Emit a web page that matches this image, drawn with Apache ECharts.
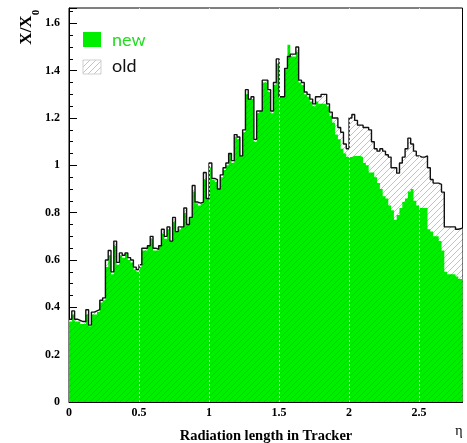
<!DOCTYPE html>
<html><head><meta charset="utf-8">
<script src="https://cdn.jsdelivr.net/npm/echarts@6/dist/echarts.min.js"></script>
<style>html,body{margin:0;padding:0;background:#fff}#c{width:467px;height:443px}</style>
</head><body><div id="c"></div>
<script>
// Histogram bins: eta from 0 in steps of binWidth (each row = 0.2 in eta)
const binWidth = 0.02;
const etaMax = 2.81;
const oldValues = [
 0.35,0.385,0.35,0.345,0.34,0.34,0.39,0.325,0.38,0.385,
 0.39,0.43,0.44,0.60,0.64,0.55,0.68,0.59,0.63,0.62,
 0.63,0.61,0.60,0.57,0.56,0.58,0.65,0.65,0.66,0.70,
 0.65,0.645,0.66,0.73,0.70,0.74,0.68,0.78,0.72,0.74,
 0.74,0.82,0.75,0.78,0.915,0.845,0.84,0.845,0.97,0.86,
 1.01,0.945,0.94,0.90,0.96,0.99,1.01,1.05,1.02,1.13,
 1.12,1.04,1.15,1.32,1.28,1.29,1.11,1.23,1.23,1.36,
 1.36,1.32,1.23,1.35,1.45,1.29,1.29,1.41,1.46,1.47,
 1.47,1.50,1.36,1.35,1.31,1.30,1.28,1.26,1.29,1.29,
 1.30,1.30,1.26,1.225,1.20,1.20,1.16,1.14,1.09,1.07,
 1.20,1.215,1.19,1.17,1.17,1.16,1.16,1.15,1.10,1.07,
 1.06,1.07,1.06,1.045,1.035,0.99,0.99,0.967,1.01,1.035,
 1.07,1.115,1.09,1.06,1.04,1.035,1.035,1.04,0.99,0.94,
 0.925,0.925,0.92,0.887,0.74,0.74,0.74,0.74,0.73,0.735];
const newValues = [
 0.34,0.37,0.34,0.34,0.33,0.33,0.37,0.32,0.37,0.37,
 0.38,0.42,0.43,0.57,0.62,0.54,0.66,0.58,0.62,0.61,
 0.63,0.60,0.59,0.56,0.55,0.57,0.64,0.64,0.66,0.69,
 0.64,0.64,0.66,0.71,0.69,0.73,0.68,0.76,0.72,0.73,
 0.74,0.80,0.75,0.78,0.89,0.84,0.83,0.84,0.94,0.86,
 0.99,0.94,0.93,0.90,0.95,0.98,1.00,1.05,1.01,1.12,
 1.11,1.04,1.14,1.30,1.28,1.28,1.10,1.22,1.23,1.35,
 1.35,1.31,1.22,1.34,1.43,1.29,1.29,1.41,1.51,1.46,
 1.46,1.48,1.35,1.34,1.30,1.29,1.27,1.25,1.27,1.26,
 1.26,1.26,1.25,1.21,1.18,1.13,1.11,1.07,1.05,1.035,
 1.035,1.04,1.04,1.04,1.035,1.01,1.00,0.97,0.97,0.95,
 0.925,0.90,0.87,0.86,0.83,0.81,0.77,0.79,0.82,0.845,
 0.86,0.89,0.90,0.85,0.83,0.82,0.82,0.82,0.73,0.72,
 0.70,0.70,0.68,0.64,0.55,0.54,0.54,0.54,0.53,0.52];
const gridLinesEta = [0.5, 1, 1.5, 2, 2.5];
const legendLabels = ['new', 'old'];
const xTitle = 'Radiation length in Tracker';

function toSteps(vals) {
  const d = vals.map((v, i) => [+(i * binWidth).toFixed(4), v]);
  d.push([etaMax, vals[vals.length - 1]]);
  return d;
}
function hatch(bg, fg, p) {
  const c = document.createElement('canvas');
  c.width = p; c.height = p;
  const g = c.getContext('2d');
  if (bg) { g.fillStyle = bg; g.fillRect(0, 0, p, p); }
  g.strokeStyle = fg; g.lineWidth = 1;
  g.beginPath();
  g.moveTo(0, p); g.lineTo(p, 0);
  g.moveTo(-1, 1); g.lineTo(1, -1);
  g.moveTo(p - 1, p + 1); g.lineTo(p + 1, p - 1);
  g.stroke();
  return c;
}
const greyHatch = hatch('#ffffff', '#c4c4c4', 6);
const greenHatch = hatch('#00ee00', '#00cf00', 6);

const chart = echarts.init(document.getElementById('c'), null, {renderer: 'canvas'});
const labelFont = {fontFamily: 'Liberation Serif', fontWeight: 'bold', fontSize: 12, color: '#000'};
function txt(x, y, text, font, fill, align, rot) {
  return {type: 'text', x: x, y: y, rotation: rot || 0,
    style: {text: text, font: font, fill: fill, align: align, verticalAlign: 'middle'}};
}
chart.setOption({
  animation: false,
  grid: {left: 69, top: 8, width: 393.5, height: 394, show: true, borderColor: '#000', borderWidth: 1, backgroundColor: 'transparent'},
  xAxis: {
    type: 'value', min: 0, max: etaMax, interval: 0.5,
    axisLine: {show: true, onZero: false, lineStyle: {color: '#000', width: 1}},
    axisTick: {show: true, inside: true, length: 8, lineStyle: {color: '#000'}},
    minorTick: {show: true, splitNumber: 5, length: 4, lineStyle: {color: '#000'}},
    splitLine: {show: false},
    axisLabel: Object.assign({margin: 5, showMaxLabel: false}, labelFont)
  },
  yAxis: {
    type: 'value', min: 0, max: 1.665, interval: 0.2,
    axisLine: {show: true, onZero: false, lineStyle: {color: '#000', width: 1}},
    axisTick: {show: true, inside: true, length: 8, lineStyle: {color: '#000'}},
    minorTick: {show: true, splitNumber: 4, length: 4, lineStyle: {color: '#000'}},
    splitLine: {show: false},
    axisLabel: Object.assign({margin: 9, showMaxLabel: false}, labelFont)
  },
  series: [
    {type: 'line', name: 'old', step: 'end', data: toSteps(oldValues), symbol: 'none', z: 1,
     lineStyle: {width: 0}, areaStyle: {opacity: 1, color: {image: greyHatch, repeat: 'repeat'}}},
    {type: 'line', name: 'new', step: 'end', data: toSteps(newValues), symbol: 'none', z: 2,
     lineStyle: {width: 0}, areaStyle: {opacity: 1, color: {image: greenHatch, repeat: 'repeat'}},
     markLine: {silent: true, symbol: 'none', label: {show: false},
       lineStyle: {color: '#ffffff', type: [2, 2], width: 1, opacity: 0.75},
       data: gridLinesEta.map(v => ({xAxis: v}))}},
    {type: 'line', name: 'oldLine', step: 'end', data: toSteps(oldValues), symbol: 'none', z: 3,
     lineStyle: {width: 1.4, color: '#111'}}
  ],
  graphic: [
    txt(27, 30, 'X/X', 'bold 17px "Liberation Serif"', '#000', 'center', Math.PI / 2),
    txt(36, 12.5, '0', 'bold 11px "Liberation Serif"', '#000', 'center', Math.PI / 2),
    {type: 'rect', shape: {x: 83, y: 32, width: 18, height: 15}, style: {fill: '#00ee00'}},
    {type: 'rect', shape: {x: 83, y: 60, width: 18, height: 14}, style: {fill: {image: greyHatch, repeat: 'repeat'}, stroke: '#d0d0d0', lineWidth: 1}},
    txt(112, 40, legendLabels[0], '18px Lato', '#22dd22', 'left'),
    txt(112, 66, legendLabels[1], '18px Lato', '#111', 'left'),
    txt(266, 436, xTitle, 'bold 14.5px "Liberation Serif"', '#000', 'center'),
    txt(459, 431, 'η', '14px "Liberation Serif"', '#000', 'center')
  ]
});
</script></body></html>
